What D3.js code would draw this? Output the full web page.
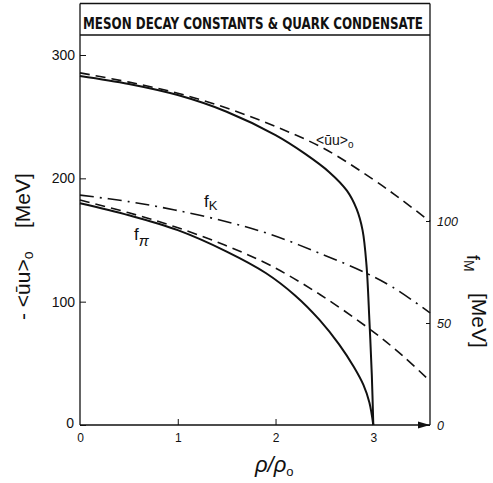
<!DOCTYPE html>
<html>
<head>
<meta charset="utf-8">
<script src="https://cdn.jsdelivr.net/npm/d3@7"></script>
<style>
  html, body { margin: 0; padding: 0; background: #fff; }
  svg { display: block; }
</style>
</head>
<body>
<script>
// ---------- data ----------
const rhoTicks = [0, 1, 2, 3];
const leftTicks = [0, 100, 200, 300];
const rightTicks = [0, 50, 100];

// -<ūu>0 (left axis, MeV), solid curve
const condSolidRho = [0, 0.5, 1.0, 1.5, 2.0, 2.3, 2.55, 2.73, 2.83, 2.89, 2.93, 2.96, 2.985, 3.0];
const condSolidVal = [283, 276.5, 267.5, 254, 235, 220, 205, 190, 175, 158, 130, 85, 40, 0];

// -<ūu>0 (left axis, MeV), dashed curve
const condDashRho = [0, 0.5, 1.0, 1.5, 2.0, 2.5, 3.0, 3.3, 3.58];
const condDashVal = [285.5, 278, 269, 257, 242, 224, 199, 182, 165];

// f_K (right axis, MeV), dash-dot curve
const fKRho = [0, 0.5, 0.97, 1.48, 1.94, 2.45, 2.93, 3.2, 3.58];
const fKVal = [112.7, 109.5, 105.4, 99.9, 93.6, 84.2, 74.4, 67.5, 55];

// f (right axis, MeV), dashed curve
const fDashRho = [0, 0.5, 0.97, 1.48, 1.94, 2.45, 2.98, 3.3, 3.58];
const fDashVal = [110.3, 104, 97.2, 88.2, 78.4, 64.1, 46.4, 34, 21.5];

// f_pi (right axis, MeV), solid curve
const fPiRho = [0, 0.5, 1.0, 1.5, 1.9, 2.2, 2.45, 2.65, 2.8, 2.9, 2.96, 3.0];
const fPiVal = [108.7, 102.8, 95.5, 85, 74.5, 63.5, 51.5, 39.5, 28.5, 19.5, 11, 0];

// ---------- drawing ----------
const W = 493, H = 483;
const svg = d3.select("body").append("svg").attr("width", W).attr("height", H);

const x = d3.scaleLinear().domain([0, 3]).range([80, 373.3]);
const yL = d3.scaleLinear().domain([0, 300]).range([425, 55]);
const yR = d3.scaleLinear().domain([0, 100]).range([425, 221]);

const font = "'Liberation Sans', Arial, Helvetica, sans-serif";
const ink = "#111";

// frame + title box
const frame = svg.append("g").attr("stroke", ink).attr("stroke-width", 1.3).attr("fill", "none");
frame.append("line").attr("x1", 80).attr("x2", 430).attr("y1", 3.5).attr("y2", 3.5);
frame.append("line").attr("x1", 80).attr("x2", 430).attr("y1", 35).attr("y2", 35);
frame.append("line").attr("x1", 80).attr("x2", 80).attr("y1", 3.5).attr("y2", 425);
frame.append("line").attr("x1", 430).attr("x2", 430).attr("y1", 3.5).attr("y2", 425);
frame.append("line").attr("x1", 80).attr("x2", 430).attr("y1", 425).attr("y2", 425);
svg.append("path").attr("d", "M418,421.5 L430,425 L418,428.5 Z").attr("fill", ink);

svg.append("text")
  .attr("x", 83).attr("y", 28.5)
  .attr("textLength", 340).attr("lengthAdjust", "spacingAndGlyphs")
  .attr("font-family", "'DejaVu Sans Condensed', 'DejaVu Sans', sans-serif")
  .attr("font-stretch", "condensed")
  .attr("font-weight", "bold").attr("font-size", 16).attr("fill", ink)
  .text("MESON DECAY CONSTANTS & QUARK CONDENSATE");

// axes
const axL = svg.append("g").attr("transform", "translate(80,0)")
  .call(d3.axisLeft(yL).tickValues(leftTicks).tickSizeInner(-6).tickSizeOuter(0).tickPadding(5));
const axB = svg.append("g").attr("transform", "translate(0,425)")
  .call(d3.axisBottom(x).tickValues(rhoTicks).tickFormat(d3.format("d"))
    .tickSizeInner(-6).tickSizeOuter(0).tickPadding(8));
const axR = svg.append("g").attr("transform", "translate(430,0)")
  .call(d3.axisRight(yR).tickValues(rightTicks).tickSizeInner(-4).tickSizeOuter(0).tickPadding(7));

[axL, axB, axR].forEach(a => {
  a.select(".domain").remove();
  a.selectAll(".tick line").attr("stroke", ink).attr("stroke-width", 1);
  a.selectAll("text").attr("fill", ink).attr("font-family", font);
});
axL.selectAll("text").attr("font-size", 14);
axL.selectAll(".tick").filter(d => d === 0).select("text").attr("dy", "0.15em").attr("x", -6);
axB.selectAll("text").attr("font-size", 12);
axB.selectAll(".tick").filter(d => d === 0).select("line").remove();
axB.selectAll(".tick").filter(d => d === 3).select("line").remove();
axR.selectAll("text").attr("font-size", 12.5).attr("font-style", "italic");

// curves
const curve = d3.curveCatmullRom.alpha(0.5);
const lineL = d3.line().x(d => x(d[0])).y(d => yL(d[1])).curve(curve);
const lineR = d3.line().x(d => x(d[0])).y(d => yR(d[1])).curve(curve);
const zip = (a, b) => a.map((v, i) => [v, b[i]]);

const curves = svg.append("g").attr("fill", "none").attr("stroke", ink);
curves.append("path").attr("d", lineL(zip(condSolidRho, condSolidVal))).attr("stroke-width", 2);
curves.append("path").attr("d", lineL(zip(condDashRho, condDashVal))).attr("stroke-width", 1.6).attr("stroke-dasharray", "10,6");
curves.append("path").attr("d", lineR(zip(fKRho, fKVal))).attr("stroke-width", 1.6).attr("stroke-dasharray", "14,6,2,6");
curves.append("path").attr("d", lineR(zip(fDashRho, fDashVal))).attr("stroke-width", 1.6).attr("stroke-dasharray", "10,6");
curves.append("path").attr("d", lineR(zip(fPiRho, fPiVal))).attr("stroke-width", 2);

// curve labels
const lab = svg.append("g").attr("font-family", font).attr("fill", ink);
const tU = lab.append("text").attr("x", 316).attr("y", 145).attr("font-size", 14);
tU.append("tspan").text("<\u016Bu>");
tU.append("tspan").attr("font-size", 10).attr("dy", 3).text("o");

const tK = lab.append("text").attr("x", 204).attr("y", 207).attr("font-size", 17);
tK.append("tspan").text("f");
tK.append("tspan").attr("font-size", 13).attr("dy", 3).text("K");

const tP = lab.append("text").attr("x", 134).attr("y", 240).attr("font-size", 17);
tP.append("tspan").text("f");
tP.append("tspan").attr("font-size", 15).attr("font-style", "italic").attr("dy", 6).text("\u03C0");

// axis titles (left)
const tL1 = lab.append("text").attr("transform", "translate(30,320) rotate(-90)").attr("font-size", 21);
tL1.append("tspan").text("- <\u016Bu>");
tL1.append("tspan").attr("font-size", 14).attr("dy", 3).text("o");
lab.append("text").attr("transform", "translate(30,228) rotate(-90)").attr("font-size", 21)
  .text("[MeV]");

// axis titles (right)
const tR1 = lab.append("text").attr("transform", "translate(467,255) rotate(90)").attr("font-size", 18);
tR1.append("tspan").text("f");
tR1.append("tspan").attr("font-size", 14).attr("dy", 3).text("M");
lab.append("text").attr("transform", "translate(472,293) rotate(90)").attr("font-size", 21)
  .text("[MeV]");

// x title
const tX = lab.append("text").attr("x", 255).attr("y", 472).attr("font-size", 22).attr("font-style", "italic");
tX.append("tspan").text("\u03C1/\u03C1");
tX.append("tspan").attr("font-size", 13).attr("font-style", "normal").attr("dy", 4).text("o");
</script>
</body>
</html>
